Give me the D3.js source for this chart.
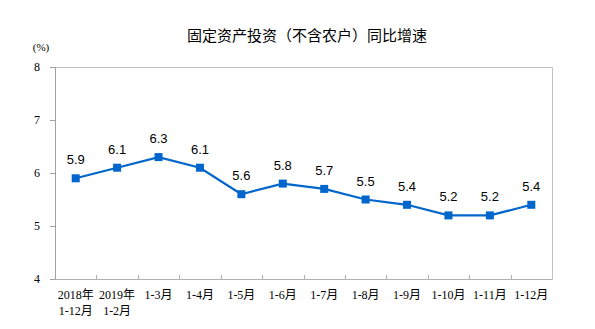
<!DOCTYPE html>
<html>
<head>
<meta charset="utf-8">
<script src="https://cdn.jsdelivr.net/npm/d3@7"></script>
<style>
  html, body { margin: 0; padding: 0; background: #fff; }
  svg { display: block; }
</style>
</head>
<body>
<svg id="chart" width="595" height="329"></svg>
<script>
// Categories (two-line labels) and year-to-date growth values
const categoryLine1 = ["2018年", "2019年", "1-3月", "1-4月", "1-5月", "1-6月", "1-7月", "1-8月", "1-9月", "1-10月", "1-11月", "1-12月"];
const categoryLine2 = ["1-12月", "1-2月", "", "", "", "", "", "", "", "", "", ""];
const growthValues = [5.9, 6.1, 6.3, 6.1, 5.6, 5.8, 5.7, 5.5, 5.4, 5.2, 5.2, 5.4];
const yTicks = [4, 5, 6, 7, 8];

const titleText = "固定资产投资（不含农户）同比增速";
const unitText = "(%)";

const svg = d3.select("#chart");
const margin = { left: 55, top: 67, right: 43, bottom: 50 };
const width = 595, height = 329;
const plotW = width - margin.left - margin.right;
const plotH = height - margin.top - margin.bottom;

const serifFont = "'Liberation Serif', 'Noto Sans CJK SC', serif";
const sansFont = "Arial, 'Liberation Sans', sans-serif";
const lineColor = "#0066CC";

const x = d3.scaleBand().domain(d3.range(categoryLine1.length)).range([0, plotW]);
const y = d3.scaleLinear().domain([4, 8]).range([plotH, 0]);

const g = svg.append("g").attr("transform", `translate(${margin.left},${margin.top})`);

// Frame: top and right borders
g.append("path")
  .attr("d", `M0,0.5H${plotW + 0.5}V${plotH}`)
  .attr("fill", "none").attr("stroke", "#c0c0c0").attr("stroke-width", 1);

// Y axis
const yAxis = g.append("g")
  .call(d3.axisLeft(y).tickValues(yTicks).tickSize(5).tickPadding(10).tickFormat(d3.format("d")));
yAxis.select(".domain").attr("stroke", "#a0a0a0");
yAxis.selectAll(".tick line").attr("stroke", "#a0a0a0");
yAxis.selectAll("text").attr("font-family", serifFont).attr("font-size", 12).attr("fill", "#000");

// X axis with inward ticks at band boundaries
const xAxisG = g.append("g").attr("transform", `translate(0,${plotH})`);
xAxisG.append("line")
  .attr("x1", 0).attr("x2", plotW + 0.5).attr("y1", 0.5).attr("y2", 0.5)
  .attr("stroke", "#b0b0b0");
xAxisG.selectAll("line.tick")
  .data(d3.range(1, categoryLine1.length))
  .join("line").attr("class", "tick")
  .attr("x1", d => Math.round(x(d)) + 0.5).attr("x2", d => Math.round(x(d)) + 0.5)
  .attr("y1", 0).attr("y2", -4)
  .attr("stroke", "#b0b0b0");
const xl = xAxisG.selectAll("text.cat")
  .data(d3.range(categoryLine1.length))
  .join("text").attr("class", "cat")
  .attr("x", d => x(d) + x.bandwidth() / 2)
  .attr("text-anchor", "middle")
  .attr("font-family", serifFont).attr("font-size", 12).attr("fill", "#000");
xl.append("tspan").attr("x", d => x(d) + x.bandwidth() / 2).attr("y", 20).text(d => categoryLine1[d]);
xl.append("tspan").attr("x", d => x(d) + x.bandwidth() / 2).attr("y", 36).text(d => categoryLine2[d]);

// Line
const line = d3.line()
  .x((d, i) => x(i) + x.bandwidth() / 2)
  .y(d => y(d));
g.append("path")
  .datum(growthValues)
  .attr("d", line)
  .attr("fill", "none")
  .attr("stroke", lineColor)
  .attr("stroke-width", 2.2);

// Square markers
const ms = 8;
g.selectAll("rect.marker")
  .data(growthValues)
  .join("rect").attr("class", "marker")
  .attr("x", (d, i) => x(i) + x.bandwidth() / 2 - ms / 2)
  .attr("y", d => y(d) - ms / 2)
  .attr("width", ms).attr("height", ms)
  .attr("fill", lineColor);

// Value labels
g.selectAll("text.val")
  .data(growthValues)
  .join("text").attr("class", "val")
  .attr("x", (d, i) => x(i) + x.bandwidth() / 2)
  .attr("y", d => y(d) - 14)
  .attr("text-anchor", "middle")
  .attr("font-family", sansFont).attr("font-size", 13).attr("fill", "#000")
  .text(d => d.toFixed(1));

// Title
svg.append("text")
  .attr("x", 307).attr("y", 41)
  .attr("text-anchor", "middle")
  .attr("font-family", "'Noto Sans CJK SC', sans-serif")
  .attr("font-size", 15).attr("fill", "#000")
  .text(titleText);

// Unit label
svg.append("text")
  .attr("x", 41).attr("y", 51)
  .attr("text-anchor", "middle")
  .attr("font-family", serifFont)
  .attr("font-size", 11).attr("fill", "#000")
  .text(unitText);
</script>
</body>
</html>
